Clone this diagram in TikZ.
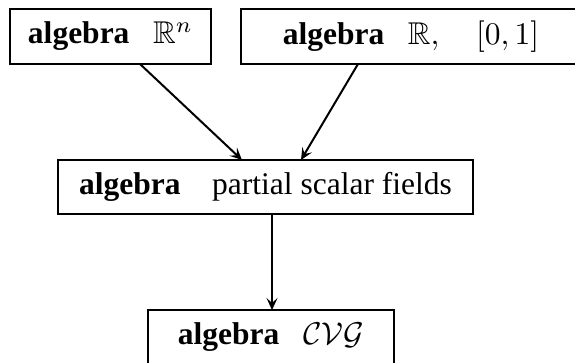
\documentclass[tikz,border=0pt]{standalone}
\usepackage{amssymb}
\usepackage{graphicx}
\usepackage[no-math]{fontspec}
\setmainfont{Liberation Serif}
\usetikzlibrary{arrows.meta}
\newcommand{\bigtxt}[1]{\scalebox{3.15}{\fontsize{10}{12}\selectfont #1}}
\begin{document}
\begin{tikzpicture}[x=1pt,y=-1pt,
  box/.style={draw,line width=2pt,rectangle,inner sep=0pt,align=center},
  arr/.style={line width=2pt,-{Stealth[length=12pt,width=11pt,inset=5pt]}}]
\useasboundingbox (0,0) rectangle (575,362);
\node[box,minimum width=201pt,minimum height=55pt] (a) at (110.5,36.5) {\bigtxt{\textbf{algebra}\hspace{0.75em}$\mathbb{R}^n$}};
\node[box,minimum width=340pt,minimum height=55pt] (b) at (411,36.5) {\bigtxt{\textbf{algebra}\hspace{0.75em}$\mathbb{R},\quad[0,1]$}};
\node[box,minimum width=415pt,minimum height=54pt] (c) at (265.5,187) {\bigtxt{\textbf{algebra}\quad partial scalar fields}};
\node[box,minimum width=246pt,minimum height=54pt] (d) at (271,337) {\bigtxt{\textbf{algebra}\hspace{0.75em}$\mathcal{CVG}$}};
\coordinate (a1) at (140,64);
\coordinate (b1) at (358,64);
\coordinate (c1) at (242,160);
\coordinate (c2) at (301,160);
\coordinate (c3) at (272,214);
\coordinate (d1) at (272,310);
\draw[arr] (a1) -- (c1);
\draw[arr] (b1) -- (c2);
\draw[arr] (c3) -- (d1);
\end{tikzpicture}
\end{document}
